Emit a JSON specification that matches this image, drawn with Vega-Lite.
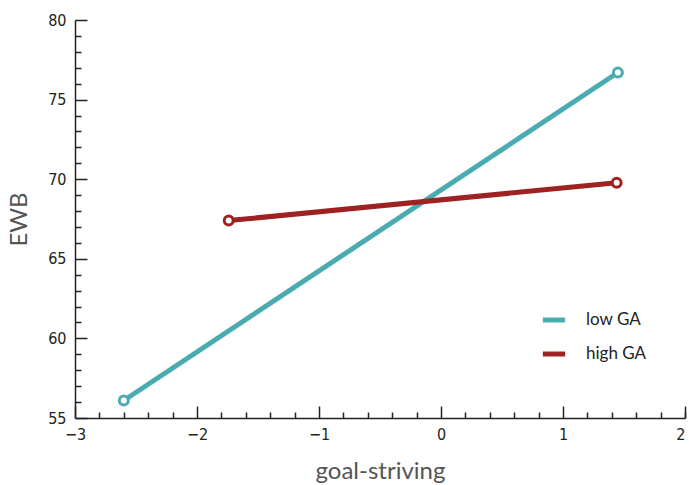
{
  "$schema": "https://vega.github.io/schema/vega-lite/v6.json",
  "width": 610,
  "height": 398,
  "autosize": "none",
  "padding": {"left": 75, "top": 20, "right": 4, "bottom": 67},
  "config": {
    "view": {"stroke": null},
    "font": "DejaVu Sans Condensed",
    "axis": {"grid": false, "domainColor": "#222", "tickColor": "#222", "domainWidth": 1.5, "tickWidth": 1.5}
  },
  "data": {"values": [
    {"gs": -2.6, "ewb": 56.1, "group": "low GA"},
    {"gs": 1.45, "ewb": 76.7, "group": "low GA"},
    {"gs": -1.74, "ewb": 67.4, "group": "high GA"},
    {"gs": 1.44, "ewb": 69.78, "group": "high GA"}
  ]},
  "resolve": {"axis": {"x": "independent", "y": "independent"}},
  "layer": [
    {
      "mark": {"type": "line", "strokeWidth": 5, "strokeCap": "round"},
      "encoding": {
        "x": {"field": "gs", "type": "quantitative", "scale": {"domain": [-3, 2], "nice": false},
          "axis": {"orient": "bottom", "title": "goal-striving", "values": [-3, -2, -1, 0, 1, 2], "tickSize": -12, "labelPadding": 20, "labelFlush": false, "labelFontSize": 16, "labelFont": "DejaVu Sans Condensed", "labelColor": "#222", "titleFontSize": 24, "titleFont": "Lato", "titleFontWeight": "normal", "titleColor": "#555", "titlePadding": 17, "format": "d", "labelExpr": "datum.value == 2 ? '' : replace(datum.label, '-', '\u2212')"}},
        "y": {"field": "ewb", "type": "quantitative", "scale": {"domain": [55, 80], "nice": false, "zero": false},
          "axis": {"orient": "left", "title": "EWB", "values": [55, 60, 65, 70, 75, 80], "tickSize": -12, "labelPadding": 21, "labelFlush": false, "labelFontSize": 16, "labelFont": "DejaVu Sans Condensed", "labelColor": "#222", "titleFontSize": 24, "titleFont": "Lato", "titleFontWeight": "normal", "titleColor": "#555", "titlePadding": 16}},
        "color": {"field": "group", "type": "nominal", "scale": {"domain": ["low GA", "high GA"], "range": ["#4aacb0", "#9e2222"]},
          "legend": {"orient": "none", "legendX": 465, "legendY": 286, "title": null, "symbolType": "stroke", "symbolStrokeWidth": 5, "symbolSize": 500, "labelFontSize": 17, "labelFont": "Lato", "labelColor": "#222", "rowPadding": 10, "labelOffset": 18}}
      }
    },
    {
      "mark": {"type": "point", "shape": "circle", "filled": false, "fill": "white", "fillOpacity": 1, "strokeWidth": 3, "size": 80, "opacity": 1},
      "encoding": {
        "x": {"field": "gs", "type": "quantitative",
          "axis": {"orient": "bottom", "title": null, "labels": true, "domain": false, "tickSize": -6, "labelPadding": 14, "labelFlush": false, "labelFontSize": 16, "labelFont": "DejaVu Sans Condensed", "labelColor": "#222", "labelAlign": "right", "labelDx": 4, "labelExpr": "datum.value == 2 ? '2' : ''", "values": [-2.8, -2.6, -2.4, -2.2, -1.8, -1.6, -1.4, -1.2, -0.8, -0.6, -0.4, -0.2, 0.2, 0.4, 0.6, 0.8, 1.2, 1.4, 1.6, 1.8, 2]}},
        "y": {"field": "ewb", "type": "quantitative",
          "axis": {"orient": "left", "title": null, "labels": false, "domain": false, "tickSize": -6, "values": [56, 57, 58, 59, 61, 62, 63, 64, 66, 67, 68, 69, 71, 72, 73, 74, 76, 77, 78, 79]}},
        "color": {"field": "group", "type": "nominal", "legend": null}
      }
    }
  ]
}
